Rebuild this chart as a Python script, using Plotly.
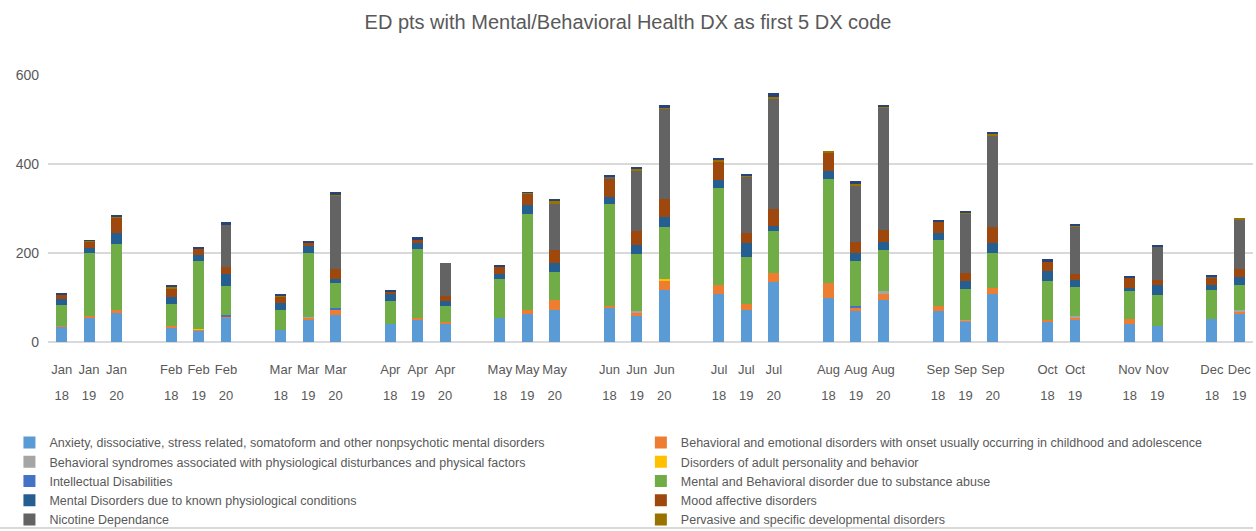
"""ED pts with Mental/Behavioral Health DX - stacked monthly bars."""

import plotly.graph_objects as go

FONT = "Liberation Sans, Arial, sans-serif"
TEXT_COLOR = "#595959"

MONTHS = ["Jan", "Feb", "Mar", "Apr", "May", "Jun", "Jul", "Aug", "Sep", "Oct", "Nov", "Dec"]
YEARS = {m: ["18", "19", "20"] for m in MONTHS[:9]}
YEARS.update({m: ["18", "19"] for m in MONTHS[9:]})

# bar categories in order (33 bars)
categories = [f"{m} {y}" for m in MONTHS for y in YEARS[m]]
month_labels = [m for m in MONTHS for y in YEARS[m]]
year_labels = [y for m in MONTHS for y in YEARS[m]]

# values per series, one per category above
anxiety = [35, 53, 66, 32, 25, 53, 27, 51, 60, 40, 51, 41, 55, 63, 73, 77, 58, 116,
           108, 72, 134, 100, 69, 95, 69, 45, 109, 46, 51, 40, 37, 51, 64]
beh_emotional = [2, 5, 5, 3, 2, 5, 0, 3, 13, 0, 4, 4, 0, 8, 21, 4, 8, 23,
                 19, 13, 21, 32, 8, 15, 13, 3, 13, 4, 4, 11, 0, 0, 5]
beh_syndromes = [0, 0, 0, 0, 0, 0, 0, 2, 0, 0, 0, 0, 0, 0, 0, 0, 3, 0,
                 0, 0, 0, 0, 0, 4, 0, 2, 0, 0, 3, 0, 0, 0, 2]
adult_personality = [0, 0, 0, 0, 2, 0, 0, 0, 0, 0, 0, 0, 0, 0, 0, 0, 0, 2,
                     0, 0, 0, 0, 0, 0, 0, 0, 0, 0, 0, 0, 0, 0, 0]
intellectual = [0, 0, 0, 0, 0, 2, 0, 0, 3, 0, 0, 0, 0, 0, 0, 0, 0, 0,
                0, 0, 0, 0, 3, 0, 0, 0, 0, 0, 0, 0, 0, 0, 0]
substance = [47, 143, 149, 51, 152, 66, 45, 144, 57, 52, 155, 36, 87, 217, 63, 230, 128, 118,
             219, 107, 94, 235, 103, 93, 148, 68, 78, 86, 66, 63, 68, 66, 57]
physiological = [13, 10, 24, 16, 15, 26, 15, 15, 8, 16, 13, 11, 11, 19, 20, 15, 21, 21,
                 18, 31, 11, 18, 18, 18, 14, 18, 23, 23, 15, 8, 22, 12, 18]
mood = [9, 14, 35, 17, 14, 16, 15, 8, 24, 5, 8, 11, 16, 26, 29, 42, 32, 42,
        42, 21, 40, 40, 24, 26, 26, 19, 36, 23, 14, 23, 13, 17, 17]
nicotine = [0, 0, 0, 0, 0, 96, 0, 0, 165, 0, 0, 75, 0, 0, 105, 3, 135, 201,
            0, 128, 248, 0, 127, 275, 0, 132, 206, 0, 106, 0, 75, 2, 113]
pervasive = [0, 2, 2, 5, 0, 0, 2, 0, 2, 0, 0, 0, 0, 2, 7, 0, 4, 5,
             4, 3, 3, 5, 4, 4, 0, 5, 3, 0, 3, 0, 0, 0, 3]
other = [2, 2, 3, 4, 3, 6, 2, 2, 4, 3, 4, 0, 4, 2, 4, 3, 4, 4,
         3, 2, 8, 0, 6, 2, 2, 3, 4, 4, 3, 3, 3, 2, 0]

# (name, values, colour, legend column)
series = [
    ("Anxiety, dissociative, stress related, somatoform and other nonpsychotic mental disorders", anxiety, "#5B9BD5", "legend"),
    ("Behavioral and emotional disorders with onset usually occurring in childhood and adolescence", beh_emotional, "#ED7D31", "legend2"),
    ("Behavioral syndromes associated with physiological disturbances and physical factors", beh_syndromes, "#A5A5A5", "legend"),
    ("Disorders of adult personality and behavior", adult_personality, "#FFC000", "legend2"),
    ("Intellectual Disabilities", intellectual, "#4472C4", "legend"),
    ("Mental and Behavioral disorder due to substance abuse", substance, "#70AD47", "legend2"),
    ("Mental Disorders due to known physiological conditions", physiological, "#255E91", "legend"),
    ("Mood affective disorders", mood, "#9E480E", "legend2"),
    ("Nicotine Dependance", nicotine, "#636363", "legend"),
    ("Pervasive and specific developmental disorders", pervasive, "#997300", "legend2"),
]

# axis order with a blank slot between months
category_order = []
for i, m in enumerate(MONTHS):
    if i > 0:
        category_order.append(" " * i)
    category_order += [f"{m} {y}" for y in YEARS[m]]

# two-line tick labels; small base font + blank line gives the wide line gap
SPAN = "<span style='font-size:13px'>{}</span>"
tick_text = [SPAN.format(m) + "<br><br>" + SPAN.format(y)
             for m, y in zip(month_labels, year_labels)]

fig = go.Figure()
for name, vals, color, leg in series:
    fig.add_trace(go.Bar(x=categories, y=vals, name=name, marker_color=color,
                         marker_line_width=0, legend=leg))
fig.add_trace(go.Bar(x=categories, y=other, name="Other", marker_color="#264478",
                     marker_line_width=0, showlegend=False))

legend_style = dict(orientation="v", yref="container", y=0.194, yanchor="top",
                    xanchor="left", traceorder="normal", font=dict(size=12.5),
                    itemwidth=30, bgcolor="rgba(0,0,0,0)")

fig.update_layout(
    width=1256,
    height=531,
    barmode="stack",
    bargap=0.6,
    plot_bgcolor="white",
    paper_bgcolor="white",
    font=dict(family=FONT, color=TEXT_COLOR, size=14),
    title=dict(text="ED pts with Mental/Behavioral Health DX as first 5 DX code",
               x=0.5, xanchor="center", y=0.9586, yanchor="middle",
               font=dict(size=20, color=TEXT_COLOR, family=FONT)),
    margin=dict(l=48, r=3, t=75, b=189, autoexpand=False),
    legend=dict(legend_style, x=-0.032),
    legend2=dict(legend_style, x=0.492),
    xaxis=dict(type="category", categoryorder="array", categoryarray=category_order,
               tickmode="array", tickvals=categories, ticktext=tick_text,
               tickangle=0, showgrid=False, ticks="", showline=False, zeroline=False,
               tickfont=dict(size=10, color=TEXT_COLOR), automargin=False,
               ticklabelstandoff=21),
    yaxis=dict(range=[0, 600], tickvals=[0, 200, 400, 600], showgrid=True,
               gridcolor="#D9D9D9", gridwidth=2, zeroline=True, zerolinecolor="#D9D9D9",
               zerolinewidth=2, tickfont=dict(size=14, color=TEXT_COLOR), ticks="",
               showline=False, ticklabelstandoff=8, automargin=False),
)

fig.add_shape(type="line", xref="paper", yref="paper", x0=-0.04, x1=1.0,
              y0=-0.697, y1=-0.697, line=dict(color="#D9D9D9", width=2))

# drop the default page margin so the figure fills the window exactly
fig.write_html("out.html", config={"displayModeBar": False},
               post_script="document.body.style.margin='0';")
